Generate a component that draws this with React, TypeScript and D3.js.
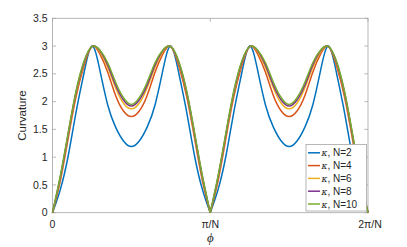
import React from "react";
import * as d3 from "d3";

const width = 407;
const height = 247;
const margin = { top: 18.3, left: 52.5, bottom: 34.3, right: 39 };

// phi in units of pi/N
const phi = [
  0, 0.05, 0.1, 0.15, 0.2, 0.25, 0.3, 0.35, 0.4, 0.45, 0.5,
  0.55, 0.6, 0.65, 0.7, 0.75, 0.8, 0.85, 0.9, 0.95, 1.0,
  1.05, 1.1, 1.15, 1.2, 1.25, 1.3, 1.35, 1.4, 1.45, 1.5,
  1.55, 1.6, 1.65, 1.7, 1.75, 1.8, 1.85, 1.9, 1.95, 2.0,
];

const kN2 = [
  0, 0.42, 1.03, 1.82, 2.52, 3.0, 2.57, 1.94, 1.54, 1.29, 1.19,
  1.29, 1.54, 1.94, 2.57, 3.0, 2.52, 1.82, 1.03, 0.42, 0,
  0.42, 1.03, 1.82, 2.52, 3.0, 2.57, 1.94, 1.54, 1.29, 1.19,
  1.29, 1.54, 1.94, 2.57, 3.0, 2.52, 1.82, 1.03, 0.42, 0,
];
const kN4 = [
  0, 0.58, 1.35, 2.1, 2.65, 2.99, 2.86, 2.53, 2.11, 1.83, 1.73,
  1.83, 2.11, 2.53, 2.86, 2.99, 2.65, 2.1, 1.35, 0.58, 0,
  0.58, 1.35, 2.1, 2.65, 2.99, 2.86, 2.53, 2.11, 1.83, 1.73,
  1.83, 2.11, 2.53, 2.86, 2.99, 2.65, 2.1, 1.35, 0.58, 0,
];
const kN6 = [
  0, 0.63, 1.41, 2.16, 2.69, 2.99, 2.9, 2.62, 2.25, 1.97, 1.87,
  1.97, 2.25, 2.62, 2.9, 2.99, 2.69, 2.16, 1.41, 0.63, 0,
  0.63, 1.41, 2.16, 2.69, 2.99, 2.9, 2.62, 2.25, 1.97, 1.87,
  1.97, 2.25, 2.62, 2.9, 2.99, 2.69, 2.16, 1.41, 0.63, 0,
];
const kN8 = [
  0, 0.65, 1.43, 2.18, 2.71, 2.99, 2.92, 2.66, 2.3, 2.03, 1.92,
  2.03, 2.3, 2.66, 2.92, 2.99, 2.71, 2.18, 1.43, 0.65, 0,
  0.65, 1.43, 2.18, 2.71, 2.99, 2.92, 2.66, 2.3, 2.03, 1.92,
  2.03, 2.3, 2.66, 2.92, 2.99, 2.71, 2.18, 1.43, 0.65, 0,
];
const kN10 = [
  0, 0.67, 1.45, 2.2, 2.73, 2.99, 2.93, 2.7, 2.35, 2.07, 1.95,
  2.07, 2.35, 2.7, 2.93, 2.99, 2.73, 2.2, 1.45, 0.67, 0,
  0.67, 1.45, 2.2, 2.73, 2.99, 2.93, 2.7, 2.35, 2.07, 1.95,
  2.07, 2.35, 2.7, 2.93, 2.99, 2.73, 2.2, 1.45, 0.67, 0,
];

const seriesNames = ["N=2", "N=4", "N=6", "N=8", "N=10"];
const seriesValues = [kN2, kN4, kN6, kN8, kN10];
const colors = ["#0072BD", "#D95319", "#EDB120", "#7E2F8E", "#77AC30"];

const yTicks = [0, 0.5, 1, 1.5, 2, 2.5, 3, 3.5];
const xTicks = [0, 1, 2];
const xTickLabels = ["0", "π/N", "2π/N"];

const x = d3.scaleLinear().domain([0, 2]).range([margin.left, width - margin.right]);
const y = d3.scaleLinear().domain([0, 3.5]).range([height - margin.bottom, margin.top]);

const line = d3
  .line<[number, number]>()
  .x((d) => x(d[0]))
  .y((d) => y(d[1]))
  .curve(d3.curveNatural);

const font = "'Liberation Sans', Arial, sans-serif";
const axisColor = "#a6a6a6";
const textColor = "#262626";

export default function App() {
  const x0 = x(0);
  const x1 = x(2);
  const y0 = y(0);
  const y1 = y(3.5);

  // split each series at the cusps (phi = 0, 1, 2)
  const paths = seriesValues.map((vals) => {
    const pts: [number, number][] = phi.map((p, i) => [p, vals[i]]);
    const segs = [pts.filter((d) => d[0] <= 1), pts.filter((d) => d[0] >= 1)];
    return segs.map((s) => line(s) as string);
  });

  const lx = 306;
  const ly = 144.5;
  const lw = 60.5;
  const lh = 66.5;
  const rowH = 12.8;

  return (
    <svg width={width} height={height} style={{ position: "absolute", left: 0, top: 0, background: "#fff" }}>
      <rect x={0} y={0} width={width} height={height} fill="#fff" />
      {/* frame */}
      <rect x={x0} y={y1} width={x1 - x0} height={y0 - y1} fill="none" stroke={axisColor} strokeWidth={0.8} />
      {/* y ticks */}
      {yTicks.map((t) => (
        <g key={"y" + t}>
          <line x1={x0} x2={x0 + 3.5} y1={y(t)} y2={y(t)} stroke={axisColor} strokeWidth={0.8} />
          <line x1={x1} x2={x1 - 3.5} y1={y(t)} y2={y(t)} stroke={axisColor} strokeWidth={0.8} />
          <text x={x0 - 5} y={y(t) + 3.6} textAnchor="end" fontSize={10.5} fontFamily={font} fill={textColor}>
            {t}
          </text>
        </g>
      ))}
      {/* x ticks */}
      {xTicks.map((t, i) => (
        <g key={"x" + t}>
          <line x1={x(t)} x2={x(t)} y1={y0} y2={y0 - 3.5} stroke={axisColor} strokeWidth={0.8} />
          <line x1={x(t)} x2={x(t)} y1={y1} y2={y1 + 3.5} stroke={axisColor} strokeWidth={0.8} />
          <text x={x(t) + (i === 2 ? 2 : 0)} y={228} textAnchor="middle" fontSize={10.5} fontFamily={font} fill={textColor}>
            {xTickLabels[i]}
          </text>
        </g>
      ))}
      {/* series */}
      {paths.map((segs, i) =>
        segs.map((d, j) => (
          <path key={i + "-" + j} d={d} fill="none" stroke={colors[i]} strokeWidth={1.5} />
        ))
      )}
      {/* axis labels */}
      <text x={(x0 + x1) / 2} y={242} textAnchor="middle" fontSize={13} fontStyle="italic" fontFamily="'Liberation Serif', serif" fill={textColor}>
        ϕ
      </text>
      <text
        transform={`translate(26,${(y0 + y1) / 2}) rotate(-90)`}
        textAnchor="middle"
        fontSize={11.5}
        fontFamily={font}
        fill={textColor}
      >
        Curvature
      </text>
      {/* legend */}
      <rect x={lx} y={ly} width={lw} height={lh} fill="#fff" stroke={axisColor} strokeWidth={0.8} />
      {seriesNames.map((n, i) => {
        const cy = ly + 8.3 + i * rowH;
        return (
          <g key={n}>
            <line x1={lx + 2} x2={lx + 14} y1={cy} y2={cy} stroke={colors[i]} strokeWidth={1.5} />
            <text x={lx + 15.5} y={cy + 3.5} fontSize={10} fontFamily={font} fill={textColor}>
              <tspan fontStyle="italic" fontFamily="'DejaVu Serif', serif" fontSize={9}>κ</tspan>, {n}
            </text>
          </g>
        );
      })}
    </svg>
  );
}
